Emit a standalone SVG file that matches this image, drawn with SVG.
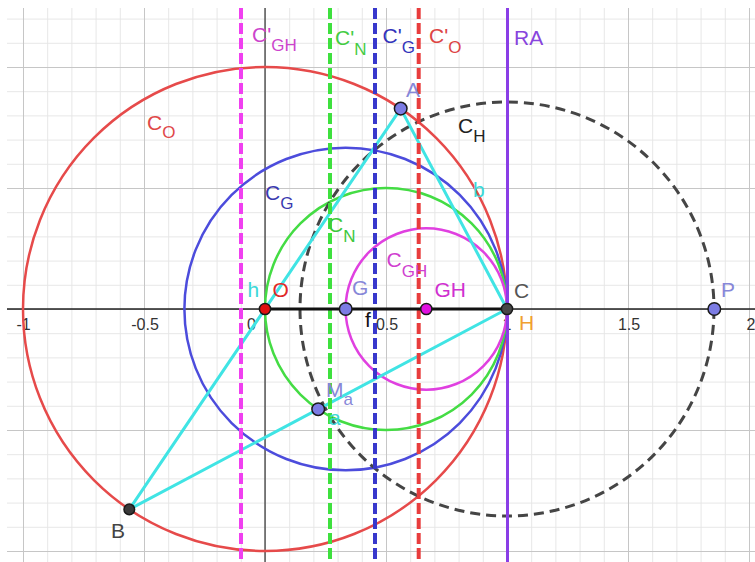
<svg xmlns="http://www.w3.org/2000/svg" width="755" height="562" viewBox="0 0 755 562">
<defs>
<pattern id="minor" x="265" y="309" width="24.2" height="24.2" patternUnits="userSpaceOnUse"><path d="M0.5 0V24.2M0 0.5H24.2" stroke="#e6e6e6" stroke-width="1" fill="none"/></pattern>
<pattern id="major" x="265" y="309" width="121" height="121" patternUnits="userSpaceOnUse"><path d="M0.5 0V121M0 0.5H121" stroke="#c6c6c6" stroke-width="1" fill="none"/></pattern>
</defs>
<style>
text{font-family:"Liberation Sans",Arial,sans-serif;font-size:21px}
.ax{font-size:16px;fill:#333;text-anchor:middle}
.sub{font-size:17px}
.pt{stroke:#1a1a1a;stroke-width:1.5}
.circ{fill:none;stroke-width:2.5}
.vl{stroke-width:4;stroke-dasharray:11 4;fill:none}
.lav{fill:#8787d8}
.cy{fill:#3cd8d8}
</style>
<rect width="755" height="562" fill="#ffffff"/>
<g id="grid">
<rect x="7" y="8" width="748" height="554" fill="url(#minor)"/>
<rect x="7" y="8" width="748" height="554" fill="url(#major)"/>
<line x1="265" y1="8" x2="265" y2="562" stroke="#444" stroke-width="1.3"/>
<line x1="7" y1="309" x2="755" y2="309" stroke="#222" stroke-width="1.6"/>
</g>
<g id="axis-labels">
<text class="ax" x="23.5" y="330">-1</text>
<text class="ax" x="145" y="330">-0.5</text>
<text class="ax" x="251.5" y="330">0</text>
<text class="ax" x="387" y="330">0.5</text>
<text class="ax" x="507" y="330">1</text>
<text class="ax" x="629" y="330">1.5</text>
<text class="ax" x="751" y="330">2</text>
</g>
<g id="circles">
<circle id="C_O" class="circ" cx="265" cy="309" r="242" stroke="#e64a4a"/>
<circle id="C_G" class="circ" cx="345.7" cy="309" r="161.3" stroke="#4c4cdc"/>
<circle id="C_N" class="circ" cx="386" cy="309" r="121" stroke="#44dc44"/>
<circle id="C_GH" class="circ" cx="426.3" cy="309" r="80.7" stroke="#e040e0"/>
<circle id="C_H" cx="507" cy="309" r="207" fill="none" stroke="#454545" stroke-width="3" stroke-dasharray="10 6"/>
</g>
<g id="triangle" stroke="#40e4e4" stroke-width="3" fill="none" stroke-linecap="round">
<line x1="400.7" y1="108.6" x2="129.3" y2="509.4"/>
<line x1="129.3" y1="509.4" x2="507" y2="309"/>
<line x1="507" y1="309" x2="400.7" y2="108.6"/>
</g>
<g id="verticals">
<line class="vl" x1="241" y1="8" x2="241" y2="562" stroke="#f040f0"/>
<line class="vl" x1="330" y1="8" x2="330" y2="562" stroke="#3ee03e"/>
<line class="vl" x1="375" y1="8" x2="375" y2="562" stroke="#3838cc"/>
<line class="vl" x1="418.7" y1="8" x2="418.7" y2="562" stroke="#e83c3c"/>
<line id="RA" x1="507.5" y1="8" x2="507.5" y2="562" stroke="#8a3ee6" stroke-width="3"/>
</g>
<line id="f" x1="265" y1="309" x2="507" y2="309" stroke="#111" stroke-width="3"/>
<g id="points">
<circle id="pA" class="pt" cx="400.7" cy="108.6" r="6.3" fill="#7c7ce4"/>
<circle id="pG" class="pt" cx="345.7" cy="309" r="6.3" fill="#7c7ce4"/>
<circle id="pP" class="pt" cx="714.3" cy="309" r="6.3" fill="#7c7ce4"/>
<circle id="pMa" class="pt" cx="318.2" cy="409.2" r="6.3" fill="#7c7ce4"/>
<circle id="pGH" class="pt" cx="426.3" cy="309" r="5.6" fill="#e010e0"/>
<circle id="pC" class="pt" cx="507" cy="309" r="5.6" fill="#474747"/>
<circle id="pO" class="pt" cx="265" cy="309" r="5.6" fill="#e01010"/>
<circle id="pB" class="pt" cx="129.3" cy="509.4" r="5.3" fill="#3a3a3a"/>
</g>
<g id="labels">
<text x="147" y="130" fill="#e04848">C<tspan class="sub" dy="8">O</tspan></text>
<text x="252" y="42" fill="#cc44cc">C'<tspan class="sub" dy="8.5">GH</tspan></text>
<text x="335" y="45" fill="#44cc44">C'<tspan class="sub" dy="10">N</tspan></text>
<text x="382.5" y="43" fill="#3333bb">C'<tspan class="sub" dy="10">G</tspan></text>
<text x="429" y="43" fill="#dd4444">C'<tspan class="sub" dy="10">O</tspan></text>
<text x="514" y="45" fill="#8844dd">RA</text>
<text class="lav" x="406" y="96.5">A</text>
<text x="458" y="133" fill="#222">C<tspan class="sub" dy="9">H</tspan></text>
<text class="cy" x="473" y="196.5" font-size="20">b</text>
<text x="265" y="200" fill="#3a3ab0">C<tspan class="sub" dy="8.5">G</tspan></text>
<text x="328" y="232" fill="#3cc83c">C<tspan class="sub" dy="10">N</tspan></text>
<text x="386.5" y="266.5" fill="#d040d0">C<tspan class="sub" dy="10">GH</tspan></text>
<text class="cy" x="247.5" y="297" font-size="20">h</text>
<text x="272.5" y="297" fill="#e02828">O</text>
<text class="lav" x="352" y="295">G</text>
<text x="434.5" y="296.5" fill="#d030d0">GH</text>
<text x="514" y="298" fill="#555">C</text>
<text class="lav" x="721" y="296.5">P</text>
<text x="519" y="330" fill="#f0a030">H</text>
<text x="365" y="327" fill="#111" font-size="20">f</text>
<text class="lav" x="326" y="397">M<tspan class="sub" dy="8">a</tspan></text>
<text class="cy" x="329" y="425" font-size="19">a</text>
<text x="111" y="538" fill="#444">B</text>
</g>
</svg>
